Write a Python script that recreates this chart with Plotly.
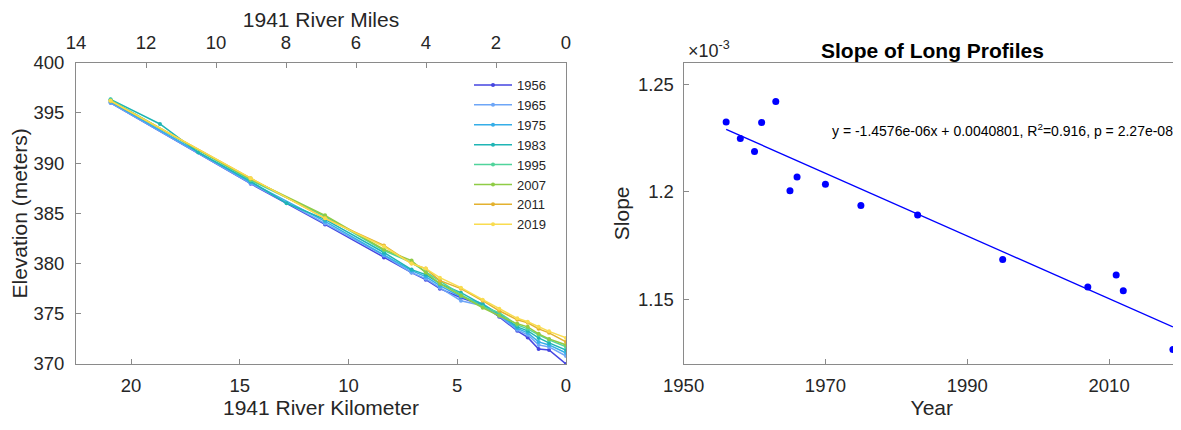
import plotly.graph_objects as go

# ---------------- Data: long profiles ----------------
km = [20.94, 18.67, 16.91, 14.50, 12.85, 11.08, 8.37, 7.10, 6.45, 5.80,
      4.83, 3.83, 3.07, 2.24, 1.76, 1.26, 0.78, 0.0]
years_profiles = ["1956", "1965", "1975", "1983", "1995", "2007", "2011", "2019"]
N = None
elev_1956 = [396.0, N, N, 387.95, N, 383.9, 380.6, 379.1, 378.4, 377.5, 376.6, 375.85, 374.7, 373.3, 372.65, 371.5, 371.4, 370.0]
elev_1965 = [396.0, N, N, 388.0, N, 384.0, 380.8, 379.1, 378.5, 377.6, 376.3, 375.8, 374.8, 373.4, 372.9, 371.9, 371.7, 370.8]
elev_1975 = [396.1, N, N, 388.1, N, 384.2, 380.9, 379.3, 378.7, 377.8, 376.7, 376.0, 374.9, 373.55, 373.1, 372.2, 371.9, 371.1]
elev_1983 = [396.35, 393.9, 391.07, 388.2, 386.0, 384.4, 381.1, 379.4, 378.9, 378.0, 377.1, 375.9, 375.0, 373.7, 373.3, 372.6, 372.1, 371.4]
elev_1995 = [396.3, N, N, 388.3, N, 384.7, 381.3, 380.1, 379.2, 378.3, 376.9, 375.7, 375.1, 373.9, 373.5, 372.9, 372.4, 371.7]
elev_2007 = [396.2, N, N, 388.4, N, 384.8, 381.4, 380.3, 379.1, 378.0, 376.8, 375.6, 374.8, 374.0, 373.7, 373.0, 372.5, 371.9]
elev_2011 = [396.2, N, N, 388.5, N, 384.5, 381.8, 380.0, 379.5, 378.3, 377.5, 376.3, 375.3, 374.4, 374.1, 373.5, 373.1, 372.2]
elev_2019 = [396.2, N, N, 388.5, N, 384.5, 381.7, 380.0, 379.5, 378.6, 377.6, 376.4, 375.5, 374.55, 374.2, 373.7, 373.25, 372.6]
profiles = [elev_1956, elev_1965, elev_1975, elev_1983, elev_1995, elev_2007, elev_2011, elev_2019]
profile_colors = ["#4545e0", "#6ea6f7", "#35aee8", "#1fb5b5", "#50d49c", "#8fcc45", "#e3b12f", "#f9dc50"]

km_ticks = [0, 5, 10, 15, 20]
mile_ticks = [0, 2, 4, 6, 8, 10, 12, 14]
elev_ticks = [370, 375, 380, 385, 390, 395, 400]

# ---------------- Data: slope ----------------
slope_years = [1956, 1958, 1960, 1961, 1963, 1965, 1966, 1970, 1975, 1983, 1995, 2007, 2011, 2012, 2019]
slope_vals = [1.2325e-3, 1.2248e-3, 1.2187e-3, 1.2322e-3, 1.2420e-3, 1.2005e-3, 1.2069e-3,
              1.2035e-3, 1.1937e-3, 1.1892e-3, 1.1685e-3, 1.1558e-3, 1.1613e-3, 1.1540e-3, 1.1267e-3]
fit_slope = -1.4576e-06
fit_intercept = 0.0040801
fit_label = "y = -1.4576e-06x + 0.0040801, R<sup>2</sup>=0.916, p = 2.27e-08"
year_ticks = [1950, 1970, 1990, 2010]
slope_ticks = [1.15e-3, 1.2e-3, 1.25e-3]
slope_ticktext = ["1.15", "1.2", "1.25"]

W, H = 1181, 430
OX, OY = 8, 8  # page body margin offset
FONT = "Liberation Sans, Arial, sans-serif"
TXT = "#262626"
AX = "#8a8a8a"

def px(x):
    return (x - OX) / W

def py(y):
    return 1 - (y - OY) / H

fig = go.Figure()

for name, vals, col in zip(years_profiles, profiles, profile_colors):
    fig.add_trace(go.Scatter(
        x=km, y=vals, name=name, mode="lines+markers", connectgaps=True,
        line=dict(color=col, width=1.5), marker=dict(color=col, size=4),
        xaxis="x", yaxis="y"))

# invisible trace so that the top (miles) axis is drawn
fig.add_trace(go.Scatter(x=[7], y=[385], xaxis="x3", yaxis="y", mode="markers",
                         marker=dict(opacity=0), showlegend=False, hoverinfo="skip"))

fig.add_trace(go.Scatter(x=slope_years, y=slope_vals, mode="markers",
                         marker=dict(color="#0000ff", size=7), showlegend=False,
                         xaxis="x2", yaxis="y2"))
fit_x = [min(slope_years), max(slope_years)]
fit_y = [fit_slope * v + fit_intercept for v in fit_x]
fig.add_trace(go.Scatter(x=fit_x, y=fit_y, mode="lines", line=dict(color="#0000ff", width=1.3),
                         showlegend=False, xaxis="x2", yaxis="y2"))

common = dict(showline=True, linecolor=AX, linewidth=1, ticks="inside", automargin=False,
              ticklen=5, tickcolor=AX, showgrid=False, zeroline=False,
              tickfont=dict(family=FONT, size=18.5, color=TXT))
TITLE_FONT = dict(family=FONT, size=21, color=TXT)

left_dom = [px(76), px(566)]
right_dom = [px(683.6), px(1180)]
ydom = [py(364), py(62.7)]

fig.update_layout(
    width=W, height=H, margin=dict(l=0, r=0, t=0, b=0, autoexpand=False),
    paper_bgcolor="white", plot_bgcolor="white",
    font=dict(family=FONT, color=TXT),
    xaxis=dict(domain=left_dom, range=[22.53, 0], tickvals=km_ticks, mirror=True,
               title=dict(text="1941 River Kilometer", font=TITLE_FONT, standoff=4),
               ticklabelstandoff=5, anchor="y", **common),
    xaxis3=dict(overlaying="x", side="top", range=[14, 0], tickvals=mile_ticks,
                title=dict(text="1941 River Miles", font=TITLE_FONT, standoff=0),
                ticklabelstandoff=5, anchor="y", **common),
    yaxis=dict(domain=ydom, range=[370, 400], tickvals=elev_ticks, mirror=True,
               title=dict(text="Elevation (meters)", font=TITLE_FONT, standoff=0),
               ticklabelstandoff=7, anchor="x", **common),
    xaxis2=dict(domain=right_dom, range=[1950, 2020], tickvals=year_ticks, mirror=True,
                title=dict(text="Year", font=TITLE_FONT, standoff=5),
                ticklabelstandoff=5, anchor="y2", **common),
    yaxis2=dict(domain=ydom, range=[1.12e-3, 1.26e-3], tickvals=slope_ticks,
                ticktext=slope_ticktext, mirror=True,
                title=dict(text="Slope", font=TITLE_FONT, standoff=2),
                ticklabelstandoff=5, anchor="x2", **common),
    legend=dict(x=px(469), y=py(70), xanchor="left", yanchor="top",
                bgcolor="rgba(0,0,0,0)", font=dict(family=FONT, size=13, color=TXT),
                itemwidth=38, tracegroupgap=0),
    annotations=[
        dict(text="<b>Slope of Long Profiles</b>", x=px(932.5), y=py(51), xref="paper", yref="paper",
             showarrow=False, font=dict(family=FONT, size=21, color="#000000"),
             xanchor="center", yanchor="middle"),
        dict(text="×10<sup>-3</sup>", x=px(686), y=py(49), xref="paper", yref="paper",
             showarrow=False, font=dict(family=FONT, size=18, color=TXT),
             xanchor="left", yanchor="middle"),
        dict(text=fit_label, x=px(1175), y=py(130), xref="paper", yref="paper",
             showarrow=False, font=dict(family=FONT, size=14, color="#000000"),
             xanchor="right", yanchor="middle"),
    ],
)

fig.write_html("out.html")
